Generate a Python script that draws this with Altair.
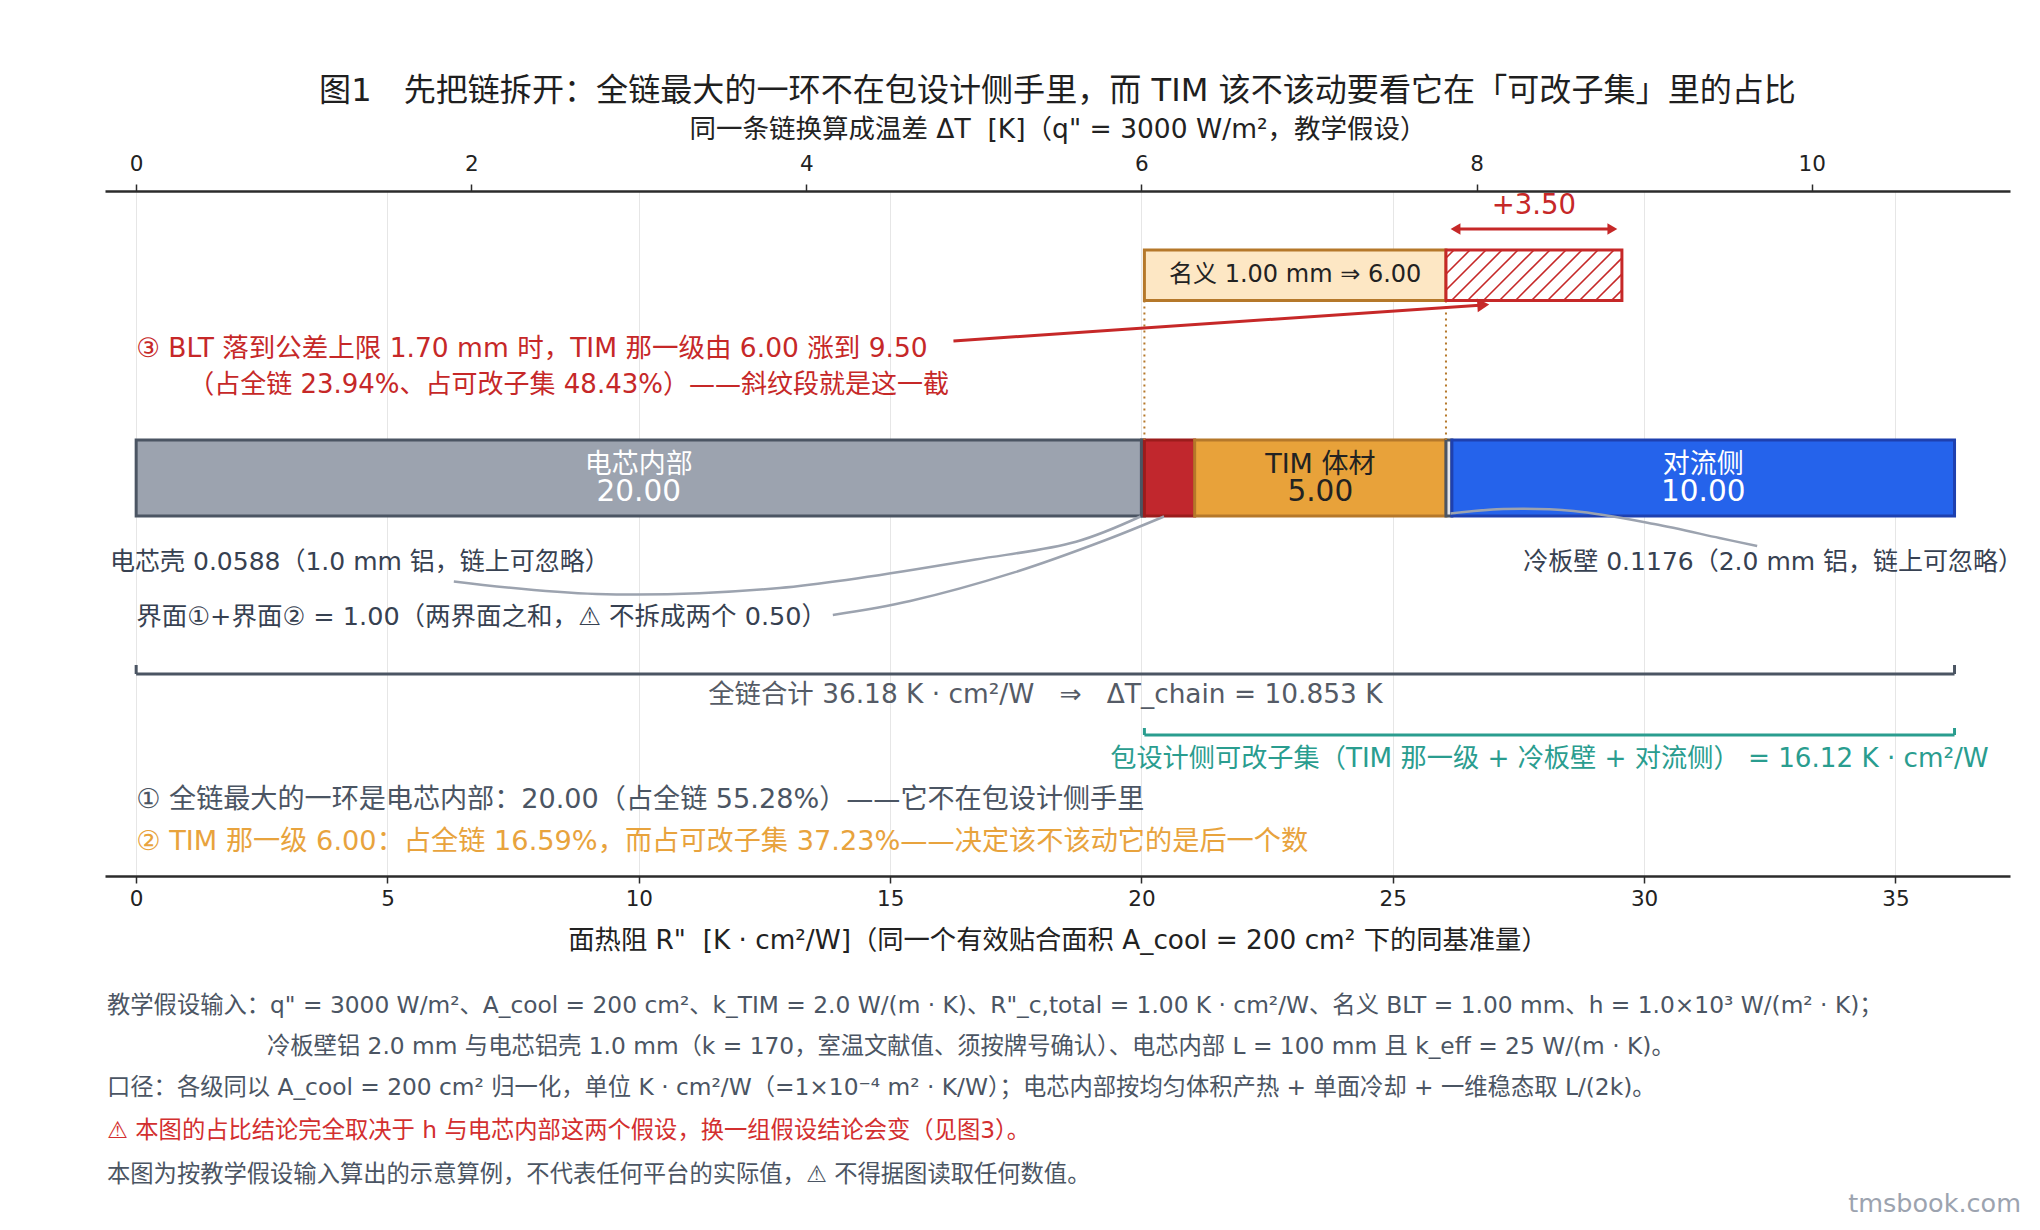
import altair as alt
import pandas as pd
import numpy as np

FONT = '"DejaVu Sans", "Noto Sans CJK SC"'
NB = "\u00a0"

# ---------------- data ----------------
seg_names = ["电芯内部", "电芯壳", "界面①+界面②", "TIM 体材", "冷板壁", "对流侧"]
seg_values = [20.00, 0.0588, 1.00, 5.00, 0.1176, 10.00]
seg_value_labels = ["20.00", "", "", "5.00", "", "10.00"]

tim_nominal = 6.00
tim_delta = 3.50
total_R = 36.18
subset_R = 16.12
dT_chain = 10.853
q_flux = 0.3  # 3000 W/m² = 0.3 W/cm²  ->  ΔT[K] = 0.3 × R"[K·cm²/W]

top_ticks = [0, 2, 4, 6, 8, 10]
bottom_ticks = [0, 5, 10, 15, 20, 25, 30, 35]

# connector curves (x in R", y in row units)
curve_shell_x = [6.32, 9.16, 12.8, 16.7, 18.7, 19.98]
curve_shell_y = [390.5, 403, 397, 368.5, 350.7, 325.5]
curve_iface_x = [13.86, 15.40, 17.47, 19.29, 20.45]
curve_iface_y = [424, 410, 381.4, 349, 325.5]
curve_wall_x = [26.15, 27.2, 28.6, 30.2, 31.5, 32.25]
curve_wall_y = [322.5, 318, 320, 333, 347, 355]

title_text = "图1　先把链拆开：全链最大的一环不在包设计侧手里，而 TIM 该不该动要看它在「可改子集」里的占比"
top_title = f'同一条链换算成温差 ΔT{NB}{NB}[K]（q" = 3000 W/m²，教学假设）'
bottom_title = f'面热阻 R"{NB}{NB}[K · cm²/W]（同一个有效贴合面积 A_cool = 200 cm² 下的同基准量）'
ann3_line1 = "③ BLT 落到公差上限 1.70 mm 时，TIM 那一级由 6.00 涨到 9.50"
ann3_line2 = "（占全链 23.94%、占可改子集 48.43%）——斜纹段就是这一截"
nominal_label = "名义 1.00 mm ⇒ 6.00"
delta_label = "+3.50"
shell_label = "电芯壳 0.0588（1.0 mm 铝，链上可忽略）"
wall_label = "冷板壁 0.1176（2.0 mm 铝，链上可忽略）"
iface_label = "界面①+界面② = 1.00（两界面之和，⚠ 不拆成两个 0.50）"
total_label = f"全链合计 36.18 K · cm²/W{NB}{NB}{NB}⇒{NB}{NB}{NB}ΔT_chain = 10.853 K"
subset_label = "包设计侧可改子集（TIM 那一级 + 冷板壁 + 对流侧） = 16.12 K · cm²/W"
note1 = "① 全链最大的一环是电芯内部：20.00（占全链 55.28%）——它不在包设计侧手里"
note2 = "② TIM 那一级 6.00：占全链 16.59%，而占可改子集 37.23%——决定该不该动它的是后一个数"
foot_lines = [
    '教学假设输入：q" = 3000 W/m²、A_cool = 200 cm²、k_TIM = 2.0 W/(m · K)、R"_c,total = 1.00 K · cm²/W、名义 BLT = 1.00 mm、h = 1.0×10³ W/(m² · K)；',
    "冷板壁铝 2.0 mm 与电芯铝壳 1.0 mm（k = 170，室温文献值、须按牌号确认）、电芯内部 L = 100 mm 且 k_eff = 25 W/(m · K)。",
    "口径：各级同以 A_cool = 200 cm² 归一化，单位 K · cm²/W（=1×10⁻⁴ m² · K/W）；电芯内部按均匀体积产热 + 单面冷却 + 一维稳态取 L/(2k)。",
    "⚠ 本图的占比结论完全取决于 h 与电芯内部这两个假设，换一组假设结论会变（见图3）。",
    "本图为按教学假设输入算出的示意算例，不代表任何平台的实际值，⚠ 不得据图读取任何数值。",
]
watermark = "tmsbook.com"

# ---------------- layout / styles ----------------
W, H = 1905, 685
XMIN, XMAX = -0.62, 37.28
PX = W / (XMAX - XMIN)

seg_fill = ["#9ca3af", "#9ca3af", "#c1272d", "#e8a23a", "#e5e7eb", "#2563eb"]
seg_stroke = ["#4b5563", "#4b5563", "#9b1c1c", "#b5782a", "#4b5563", "#1e40af"]
seg_text_color = ["#ffffff", "#ffffff", "#ffffff", "#222222", "#ffffff", "#ffffff"]

RED = "#c62828"
TEAL = "#2a9d8f"
ORANGE = "#e8a33d"
DGRAY = "#4b5563"
TXT = "#222222"

Y_DLABEL = 14.5
Y_DARROW = 38
Y_NOM0, Y_NOM1 = 59, 109.5
Y_ANN1, Y_ANN2 = 158, 194
Y_BAR0, Y_BAR1 = 249, 325
Y_BL1, Y_BL2 = 273.5, 301
Y_SIDE = 371
Y_IFACE = 426
Y_BR1, Y_BR1T = 483, 474
Y_TOTAL = 504
Y_BR2, Y_BR2T = 544, 537
Y_SUB = 567.5
Y_N1, Y_N2 = 609, 651

xs = alt.Scale(domain=[XMIN, XMAX], nice=False, zero=False)
ys = alt.Scale(domain=[0, H], reverse=True, nice=False, zero=False)
bax = alt.Axis(
    orient="bottom", values=bottom_ticks, title=bottom_title, grid=True,
    gridColor="#e6e6e6", gridWidth=1, domainColor="#2b2b2b", domainWidth=2.5,
    tickColor="#2b2b2b", tickWidth=1.5, tickSize=7, labelPadding=5,
    labelFontSize=21.5, labelColor=TXT, labelFont=FONT, labelFlush=False,
    titleFont=FONT, titleFontSize=26.3, titleColor=TXT, titleFontWeight="normal",
    titlePadding=18, format="d",
)


def X(f):
    return alt.X(f, type="quantitative", scale=xs, axis=bax)


def Y(f):
    return alt.Y(f, type="quantitative", scale=ys, axis=None)


def text_layer(df, x, y, t, **kw):
    return alt.Chart(df).mark_text(font=FONT, **kw).encode(
        x=X(x), y=Y(y), text=alt.Text(t, type="nominal"))


def abs_text(s, x, y, **kw):
    return alt.Chart(pd.DataFrame({"t": [s]})).mark_text(font=FONT, **kw).encode(
        x=alt.value(x), y=alt.value(y), text="t:N")


# ---------------- main bar ----------------
ends = np.cumsum(seg_values)
starts = ends - np.array(seg_values)
bars_df = pd.DataFrame({
    "name": seg_names, "x0": starts, "x1": ends,
    "y0": Y_BAR0, "y1": Y_BAR1, "fill": seg_fill, "stroke": seg_stroke,
    "val": seg_value_labels, "tc": seg_text_color,
})
bars = alt.Chart(bars_df).mark_rect(strokeWidth=3).encode(
    x=X("x0"), x2="x1", y=Y("y0"), y2="y1",
    color=alt.Color("fill:N", scale=None), stroke=alt.Stroke("stroke:N", scale=None))

lab_df = bars_df[bars_df["val"] != ""].copy()
lab_df["xm"] = (lab_df["x0"] + lab_df["x1"]) / 2
lab_df["yl1"] = Y_BL1
lab_df["yl2"] = Y_BL2
bar_lab1 = alt.Chart(lab_df).mark_text(font=FONT, fontSize=27).encode(
    x=X("xm"), y=Y("yl1"), text="name:N", color=alt.Color("tc:N", scale=None))
bar_lab2 = alt.Chart(lab_df).mark_text(font=FONT, fontSize=29.5).encode(
    x=X("xm"), y=Y("yl2"), text="val:N", color=alt.Color("tc:N", scale=None))

# ---------------- nominal TIM box + hatched increment ----------------
nom_x0 = starts[2]
nom_x1 = nom_x0 + tim_nominal
hat_x1 = nom_x1 + tim_delta

nom_df = pd.DataFrame({"x0": [nom_x0], "x1": [nom_x1], "y0": [Y_NOM0], "y1": [Y_NOM1],
                       "xm": [(nom_x0 + nom_x1) / 2], "ym": [(Y_NOM0 + Y_NOM1) / 2],
                       "t": [nominal_label]})
nom_box = alt.Chart(nom_df).mark_rect(fill="#fde7c4", stroke="#b5782a", strokeWidth=3).encode(
    x=X("x0"), x2="x1", y=Y("y0"), y2="y1")
nom_text = text_layer(nom_df, "xm", "ym", "t", fontSize=24, color=TXT)

hat_df = pd.DataFrame({"x0": [nom_x1], "x1": [hat_x1], "y0": [Y_NOM0], "y1": [Y_NOM1]})
hat_box = alt.Chart(hat_df).mark_rect(fill="#ffffff", stroke=RED, strokeWidth=3).encode(
    x=X("x0"), x2="x1", y=Y("y0"), y2="y1")

# hatch lines (decoration clipped to the increment rectangle)
lp, rp = nom_x1 * PX, hat_x1 * PX
hh = Y_NOM1 - Y_NOM0
rows = []
for xb in np.arange(lp - hh + 8, rp, 16.0):
    xa, ya, xb2, yb = xb, Y_NOM1, xb + hh, Y_NOM0
    if xa < lp:
        ya = Y_NOM1 - (lp - xa)
        xa = lp
    if xb2 > rp:
        yb = Y_NOM0 + (xb2 - rp)
        xb2 = rp
    if xb2 > xa:
        rows.append({"xa": xa / PX, "xb": xb2 / PX, "ya": ya, "yb": yb})
hatch = alt.Chart(pd.DataFrame(rows)).mark_rule(color=RED, strokeWidth=1.6).encode(
    x=X("xa"), x2="xb", y=Y("ya"), y2="yb")

# dotted guides from the nominal box down to the bar
dot_df = pd.DataFrame({"x": [nom_x0, nom_x1], "y0": [Y_NOM1, Y_NOM1], "y1": [Y_BAR0, Y_BAR0]})
dots = alt.Chart(dot_df).mark_rule(color="#b5782a", strokeWidth=2, strokeDash=[2, 4]).encode(
    x=X("x"), y=Y("y0"), y2="y1")

# +3.50 double arrow
ah = 0.1
darrow_df = pd.DataFrame({"x0": [nom_x1 + 0.09 + ah], "x1": [hat_x1 - 0.09 - ah], "y": [Y_DARROW]})
darrow = alt.Chart(darrow_df).mark_rule(color=RED, strokeWidth=3).encode(
    x=X("x0"), x2="x1", y=Y("y"))
dl_head = alt.Chart(pd.DataFrame({"x": [nom_x1 + 0.09 + ah], "y": [Y_DARROW]})).mark_point(
    shape="triangle-left", filled=True, size=130, color=RED, opacity=1).encode(x=X("x"), y=Y("y"))
dr_head = alt.Chart(pd.DataFrame({"x": [hat_x1 - 0.09 - ah], "y": [Y_DARROW]})).mark_point(
    shape="triangle-right", filled=True, size=130, color=RED, opacity=1).encode(x=X("x"), y=Y("y"))
dlabel = text_layer(pd.DataFrame({"x": [(nom_x1 + hat_x1) / 2], "y": [Y_DLABEL], "t": [delta_label]}),
                    "x", "y", "t", fontSize=27.5, color=RED)

# ③ annotation + red arrow
ann1 = text_layer(pd.DataFrame({"x": [0.0], "y": [Y_ANN1], "t": [ann3_line1]}), "x", "y", "t",
                  fontSize=26.5, color=RED, align="left")
ann2 = text_layer(pd.DataFrame({"x": [0.0], "y": [Y_ANN2], "t": [ann3_line2]}), "x", "y", "t",
                  fontSize=26, color=RED, align="left", dx=52)
arr_x0, arr_y0 = 16.26, 150.0
arr_tip_x, arr_tip_y = 26.92, 113.5
dxp, dyp = (arr_tip_x - arr_x0) * PX, arr_tip_y - arr_y0
ln = np.hypot(dxp, dyp)
hc_x = arr_tip_x - 6.0 * dxp / ln / PX
hc_y = arr_tip_y - 6.0 * dyp / ln
ang = (np.degrees(np.arctan2(dyp, dxp)) + 360) % 360
red_line = alt.Chart(pd.DataFrame({"x0": [arr_x0], "x1": [hc_x], "y0": [arr_y0], "y1": [hc_y]})).mark_rule(
    color=RED, strokeWidth=3).encode(x=X("x0"), x2="x1", y=Y("y0"), y2="y1")
red_head = alt.Chart(pd.DataFrame({"x": [hc_x], "y": [hc_y]})).mark_point(
    shape="triangle-right", filled=True, size=190, color=RED, opacity=1, angle=float(ang)).encode(
    x=X("x"), y=Y("y"))

# side labels and connector curves
side_left = text_layer(pd.DataFrame({"x": [-0.52], "y": [Y_SIDE], "t": [shell_label]}), "x", "y", "t",
                       fontSize=25, color="#374151", align="left")
side_right = text_layer(pd.DataFrame({"x": [37.54], "y": [Y_SIDE], "t": [wall_label]}), "x", "y", "t",
                        fontSize=25, color="#374151", align="right")
iface = text_layer(pd.DataFrame({"x": [0.0], "y": [Y_IFACE], "t": [iface_label]}), "x", "y", "t",
                   fontSize=25.5, color="#374151", align="left")

curve_rows = []
for cid, (cx, cy) in enumerate([(curve_shell_x, curve_shell_y),
                                (curve_iface_x, curve_iface_y),
                                (curve_wall_x, curve_wall_y)]):
    for i, (a, b) in enumerate(zip(cx, cy)):
        curve_rows.append({"c": f"c{cid}", "i": i, "x": a, "y": b})
curves = alt.Chart(pd.DataFrame(curve_rows)).mark_line(
    color="#9ca3af", strokeWidth=2.5, interpolate="catmull-rom").encode(
    x=X("x"), y=Y("y"), detail="c:N", order="i:Q")


# brackets
def bracket(x0, x1, yl, yt, color):
    h = alt.Chart(pd.DataFrame({"x0": [x0], "x1": [x1], "y": [yl]})).mark_rule(
        color=color, strokeWidth=3).encode(x=X("x0"), x2="x1", y=Y("y"))
    v = alt.Chart(pd.DataFrame({"x": [x0, x1], "y0": [yt, yt], "y1": [yl, yl]})).mark_rule(
        color=color, strokeWidth=3).encode(x=X("x"), y=Y("y0"), y2="y1")
    return [h, v]


br1 = bracket(0.0, ends[-1], Y_BR1, Y_BR1T, DGRAY)
br2 = bracket(nom_x0, ends[-1], Y_BR2, Y_BR2T, TEAL)
total_t = text_layer(pd.DataFrame({"x": [ends[-1] / 2], "y": [Y_TOTAL], "t": [total_label]}),
                     "x", "y", "t", fontSize=26.4, color="#555b66")
subset_t = text_layer(pd.DataFrame({"x": [(nom_x0 + ends[-1]) / 2], "y": [Y_SUB], "t": [subset_label]}),
                      "x", "y", "t", fontSize=26.2, color=TEAL)
n1 = text_layer(pd.DataFrame({"x": [0.0], "y": [Y_N1], "t": [note1]}), "x", "y", "t",
                fontSize=27.1, color=DGRAY, align="left")
n2 = text_layer(pd.DataFrame({"x": [0.0], "y": [Y_N2], "t": [note2]}), "x", "y", "t",
                fontSize=27.2, color=ORANGE, align="left")

# absolute texts: title, footnotes, watermark
title = abs_text(title_text, W / 2, -100, fontSize=32.1, color="#1f1f1f", align="center", baseline="middle")
foot_y = [815, 856, 897, 940, 984]
foot_x = [2, 162, 2, 2, 2]
foot_c = [DGRAY, DGRAY, DGRAY, "#d32f2f", DGRAY]
foots = [abs_text(s, fx, fy, fontSize=23.3, color=fc, align="left", baseline="middle")
         for s, fx, fy, fc in zip(foot_lines, foot_x, foot_y, foot_c)]
wm = abs_text(watermark, 1916, 1013, fontSize=25.5, color="#9ca3af", align="right", baseline="middle")

main = alt.layer(
    bars, dots, nom_box, nom_text, hat_box, hatch, darrow, dl_head, dr_head, dlabel,
    ann1, ann2, red_line, red_head, bar_lab1, bar_lab2,
    curves, side_left, side_right, iface,
    *br1, *br2, total_t, subset_t, n1, n2, title, *foots, wm,
)

top_axis = alt.Chart(pd.DataFrame({"dt": top_ticks})).mark_point(opacity=0).encode(
    x=alt.X("dt:Q", scale=alt.Scale(domain=[XMIN * q_flux, XMAX * q_flux], nice=False, zero=False),
            axis=alt.Axis(orient="top", values=top_ticks, title=top_title, grid=False,
                          domainColor="#2b2b2b", domainWidth=2.5, tickColor="#2b2b2b",
                          tickWidth=1.5, tickSize=7, labelPadding=9, labelFontSize=21.5,
                          labelColor=TXT, labelFont=FONT, labelFlush=False, titleFont=FONT,
                          titleFontSize=26.5, titleColor=TXT, titleFontWeight="normal",
                          titlePadding=10, format="d")))

chart = alt.layer(main, top_axis).resolve_scale(x="independent").properties(
    width=W, height=H,
    autosize=alt.AutoSizeParams(type="none"),
    padding={"left": 97, "top": 183, "right": 20, "bottom": 345},
).configure(font=FONT).configure_view(stroke=None)

chart.save("out.html", embed_options={"renderer": "svg", "actions": False})
